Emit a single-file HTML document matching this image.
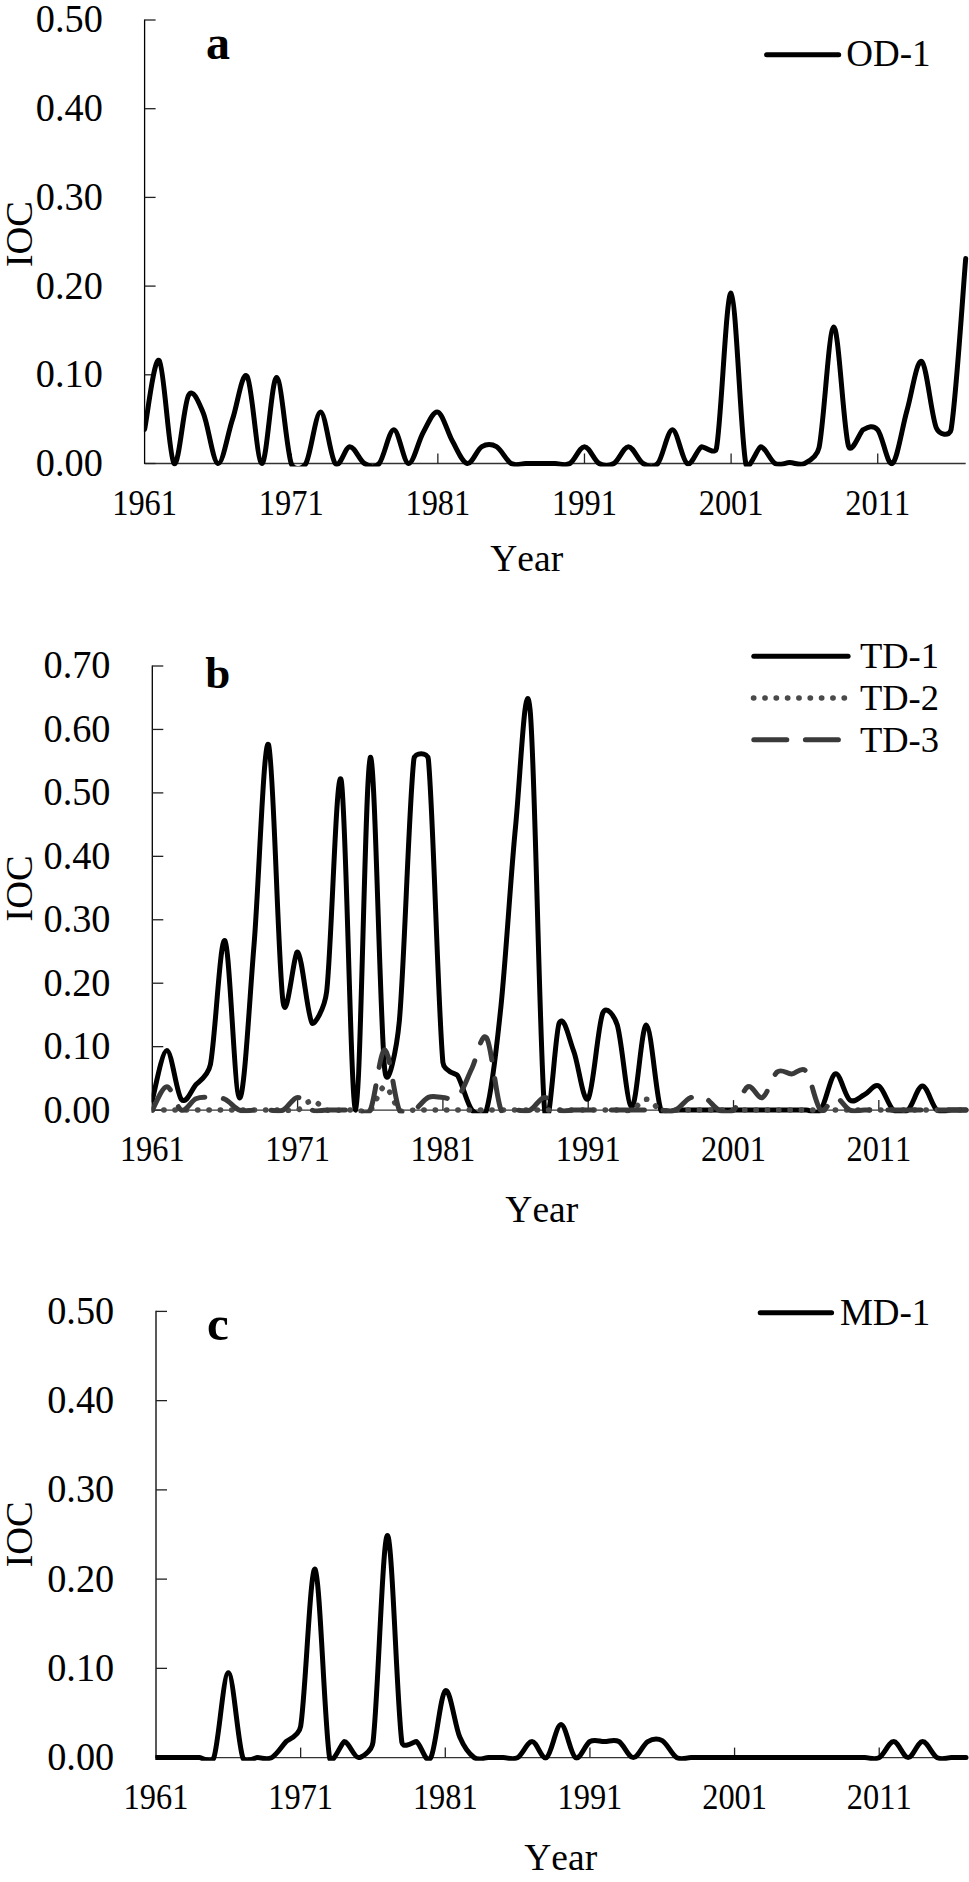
<!DOCTYPE html>
<html><head><meta charset="utf-8"><style>
html,body{margin:0;padding:0;background:#fff;overflow:hidden;}
svg{display:block;}
</style></head><body>
<svg width="969" height="1882" viewBox="0 0 969 1882">
<rect width="969" height="1882" fill="#fff"/>
<clipPath id="cpa"><rect x="143.90" y="-40.00" width="830.40" height="506.60"/></clipPath>
<path d="M144.60 463.50H965.70" fill="none" stroke="#333" stroke-width="1.3"/>
<path d="M144.60 19.40V464.10" fill="none" stroke="#000" stroke-width="1.3"/>
<path d="M144.60 463.50H155.60" stroke="#222" stroke-width="1.3"/>
<text transform="translate(102.80 475.90) scale(0.945 1)" text-anchor="end" style="font-family:'Liberation Serif',serif;font-kerning:none;font-size:40.5px">0.00</text>
<path d="M144.60 374.80H155.60" stroke="#222" stroke-width="1.3"/>
<text transform="translate(102.80 387.20) scale(0.945 1)" text-anchor="end" style="font-family:'Liberation Serif',serif;font-kerning:none;font-size:40.5px">0.10</text>
<path d="M144.60 286.10H155.60" stroke="#222" stroke-width="1.3"/>
<text transform="translate(102.80 298.50) scale(0.945 1)" text-anchor="end" style="font-family:'Liberation Serif',serif;font-kerning:none;font-size:40.5px">0.20</text>
<path d="M144.60 197.40H155.60" stroke="#222" stroke-width="1.3"/>
<text transform="translate(102.80 209.80) scale(0.945 1)" text-anchor="end" style="font-family:'Liberation Serif',serif;font-kerning:none;font-size:40.5px">0.30</text>
<path d="M144.60 108.70H155.60" stroke="#222" stroke-width="1.3"/>
<text transform="translate(102.80 121.10) scale(0.945 1)" text-anchor="end" style="font-family:'Liberation Serif',serif;font-kerning:none;font-size:40.5px">0.40</text>
<path d="M144.60 20.00H155.60" stroke="#222" stroke-width="1.3"/>
<text transform="translate(102.80 32.40) scale(0.945 1)" text-anchor="end" style="font-family:'Liberation Serif',serif;font-kerning:none;font-size:40.5px">0.50</text>
<text transform="translate(144.60 514.70) scale(0.9 1)" text-anchor="middle" style="font-family:'Liberation Serif',serif;font-kerning:none;font-size:36px">1961</text>
<path d="M291.23 463.50V453.50" stroke="#222" stroke-width="1.3"/>
<text transform="translate(291.23 514.70) scale(0.9 1)" text-anchor="middle" style="font-family:'Liberation Serif',serif;font-kerning:none;font-size:36px">1971</text>
<path d="M437.85 463.50V453.50" stroke="#222" stroke-width="1.3"/>
<text transform="translate(437.85 514.70) scale(0.9 1)" text-anchor="middle" style="font-family:'Liberation Serif',serif;font-kerning:none;font-size:36px">1981</text>
<path d="M584.48 463.50V453.50" stroke="#222" stroke-width="1.3"/>
<text transform="translate(584.48 514.70) scale(0.9 1)" text-anchor="middle" style="font-family:'Liberation Serif',serif;font-kerning:none;font-size:36px">1991</text>
<path d="M731.10 463.50V453.50" stroke="#222" stroke-width="1.3"/>
<text transform="translate(731.10 514.70) scale(0.9 1)" text-anchor="middle" style="font-family:'Liberation Serif',serif;font-kerning:none;font-size:36px">2001</text>
<path d="M877.73 463.50V453.50" stroke="#222" stroke-width="1.3"/>
<text transform="translate(877.73 514.70) scale(0.9 1)" text-anchor="middle" style="font-family:'Liberation Serif',serif;font-kerning:none;font-size:36px">2011</text>
<text x="526.7" y="571.3" text-anchor="middle" style="font-family:'Liberation Serif',serif;font-kerning:none;font-size:37.5px">Year</text>
<text transform="translate(32 234.1) rotate(-90)" text-anchor="middle" style="font-family:'Liberation Serif',serif;font-kerning:none;font-size:38.5px">IOC</text>
<text x="206.0" y="58.9" style="font-family:'Liberation Serif',serif;font-kerning:none;font-weight:bold;font-size:48px">a</text>
<g clip-path="url(#cpa)">
<path d="M144.60 429.35 C147.04 417.89 154.38 354.92 159.26 360.61 C164.15 366.30 169.04 457.73 173.92 463.50 C178.81 469.27 183.70 403.63 188.59 395.20 C193.13 387.37 198.71 402.37 203.25 412.94 C208.14 424.32 213.03 462.47 217.91 463.50 C222.80 464.53 227.69 433.64 232.57 419.15 C237.46 404.66 242.35 369.18 247.24 376.57 C252.12 383.97 257.01 463.35 261.90 463.50 C266.79 463.65 271.68 377.46 276.56 377.46 C281.45 377.46 286.34 449.16 291.23 463.50 C293.59 470.44 302.26 469.87 305.89 463.50 C310.77 454.93 315.66 412.05 320.55 412.05 C325.44 412.05 330.32 457.73 335.21 463.50 C340.10 469.27 344.99 446.65 349.88 446.65 C354.76 446.65 359.65 460.69 364.54 463.50 C369.35 466.27 374.39 469.03 379.20 463.50 C384.09 457.88 388.97 429.79 393.86 429.79 C398.75 429.79 403.64 463.06 408.52 463.50 C413.41 463.94 418.30 441.03 423.19 432.45 C428.07 423.88 432.96 410.58 437.85 412.05 C442.74 413.53 447.62 432.75 452.51 441.32 C457.40 449.90 462.29 462.61 467.17 463.50 C472.06 464.39 476.95 449.46 481.84 446.65 C486.72 443.84 491.61 443.84 496.50 446.65 C501.39 449.46 506.28 460.69 511.16 463.50 C516.05 466.31 520.94 463.50 525.82 463.50 C530.71 463.50 535.60 463.50 540.49 463.50 C545.38 463.50 550.26 463.50 555.15 463.50 C560.04 463.50 564.92 466.31 569.81 463.50 C574.70 460.69 579.59 446.65 584.48 446.65 C589.36 446.65 594.25 460.69 599.14 463.50 C604.02 466.31 608.91 466.31 613.80 463.50 C618.69 460.69 623.57 446.65 628.46 446.65 C633.35 446.65 638.24 460.69 643.12 463.50 C647.94 466.27 652.98 469.03 657.79 463.50 C662.68 457.88 667.56 429.79 672.45 429.79 C677.34 429.79 682.22 460.69 687.11 463.50 C692.00 466.31 696.89 449.16 701.77 446.65 C703.16 445.93 715.05 455.67 716.44 448.42 C721.33 422.85 726.21 290.68 731.10 293.20 C735.99 295.71 740.88 437.92 745.76 463.50 C747.86 474.47 758.33 446.65 760.42 446.65 C765.31 446.65 770.20 460.84 775.09 463.50 C779.98 466.16 784.86 462.61 789.75 462.61 C794.64 462.61 799.52 466.01 804.41 463.50 C806.69 462.33 816.80 458.13 819.08 447.53 C823.96 424.77 828.85 327.20 833.74 326.90 C838.62 326.61 843.51 428.61 848.40 445.76 C851.37 456.18 860.09 431.41 863.06 429.79 C867.87 427.17 872.91 424.26 877.73 429.79 C882.61 435.41 887.50 466.75 892.39 463.50 C897.28 460.25 902.16 427.28 907.05 410.28 C911.94 393.28 916.82 358.54 921.71 361.50 C926.60 364.45 931.49 416.64 936.38 428.02 C939.29 434.81 949.78 437.07 951.04 429.79 C955.93 401.56 963.26 287.13 965.70 258.60" fill="none" stroke="#000" stroke-width="5" stroke-linejoin="round" stroke-linecap="round" />
</g>
<path d="M766.6 54.7H838.7" stroke="#000" stroke-width="5" stroke-linecap="round" />
<text x="846.2" y="66.1" style="font-family:'Liberation Serif',serif;font-kerning:none;font-size:37px">OD-1</text>
<clipPath id="cpb"><rect x="151.60" y="606.00" width="822.70" height="507.20"/></clipPath>
<path d="M152.30 1110.10H966.00" fill="none" stroke="#333" stroke-width="1.3"/>
<path d="M152.30 665.40V1110.70" fill="none" stroke="#000" stroke-width="1.3"/>
<path d="M152.30 1110.10H163.30" stroke="#222" stroke-width="1.3"/>
<text transform="translate(110.50 1122.50) scale(0.945 1)" text-anchor="end" style="font-family:'Liberation Serif',serif;font-kerning:none;font-size:40.5px">0.00</text>
<path d="M152.30 1046.66H163.30" stroke="#222" stroke-width="1.3"/>
<text transform="translate(110.50 1059.06) scale(0.945 1)" text-anchor="end" style="font-family:'Liberation Serif',serif;font-kerning:none;font-size:40.5px">0.10</text>
<path d="M152.30 983.21H163.30" stroke="#222" stroke-width="1.3"/>
<text transform="translate(110.50 995.61) scale(0.945 1)" text-anchor="end" style="font-family:'Liberation Serif',serif;font-kerning:none;font-size:40.5px">0.20</text>
<path d="M152.30 919.77H163.30" stroke="#222" stroke-width="1.3"/>
<text transform="translate(110.50 932.17) scale(0.945 1)" text-anchor="end" style="font-family:'Liberation Serif',serif;font-kerning:none;font-size:40.5px">0.30</text>
<path d="M152.30 856.33H163.30" stroke="#222" stroke-width="1.3"/>
<text transform="translate(110.50 868.73) scale(0.945 1)" text-anchor="end" style="font-family:'Liberation Serif',serif;font-kerning:none;font-size:40.5px">0.40</text>
<path d="M152.30 792.89H163.30" stroke="#222" stroke-width="1.3"/>
<text transform="translate(110.50 805.29) scale(0.945 1)" text-anchor="end" style="font-family:'Liberation Serif',serif;font-kerning:none;font-size:40.5px">0.50</text>
<path d="M152.30 729.44H163.30" stroke="#222" stroke-width="1.3"/>
<text transform="translate(110.50 741.84) scale(0.945 1)" text-anchor="end" style="font-family:'Liberation Serif',serif;font-kerning:none;font-size:40.5px">0.60</text>
<path d="M152.30 666.00H163.30" stroke="#222" stroke-width="1.3"/>
<text transform="translate(110.50 678.40) scale(0.945 1)" text-anchor="end" style="font-family:'Liberation Serif',serif;font-kerning:none;font-size:40.5px">0.70</text>
<text transform="translate(152.30 1161.30) scale(0.9 1)" text-anchor="middle" style="font-family:'Liberation Serif',serif;font-kerning:none;font-size:36px">1961</text>
<path d="M297.60 1110.10V1100.10" stroke="#222" stroke-width="1.3"/>
<text transform="translate(297.60 1161.30) scale(0.9 1)" text-anchor="middle" style="font-family:'Liberation Serif',serif;font-kerning:none;font-size:36px">1971</text>
<path d="M442.91 1110.10V1100.10" stroke="#222" stroke-width="1.3"/>
<text transform="translate(442.91 1161.30) scale(0.9 1)" text-anchor="middle" style="font-family:'Liberation Serif',serif;font-kerning:none;font-size:36px">1981</text>
<path d="M588.21 1110.10V1100.10" stroke="#222" stroke-width="1.3"/>
<text transform="translate(588.21 1161.30) scale(0.9 1)" text-anchor="middle" style="font-family:'Liberation Serif',serif;font-kerning:none;font-size:36px">1991</text>
<path d="M733.51 1110.10V1100.10" stroke="#222" stroke-width="1.3"/>
<text transform="translate(733.51 1161.30) scale(0.9 1)" text-anchor="middle" style="font-family:'Liberation Serif',serif;font-kerning:none;font-size:36px">2001</text>
<path d="M878.82 1110.10V1100.10" stroke="#222" stroke-width="1.3"/>
<text transform="translate(878.82 1161.30) scale(0.9 1)" text-anchor="middle" style="font-family:'Liberation Serif',serif;font-kerning:none;font-size:36px">2011</text>
<text x="541.8" y="1222.2" text-anchor="middle" style="font-family:'Liberation Serif',serif;font-kerning:none;font-size:37.5px">Year</text>
<text transform="translate(32 888.5) rotate(-90)" text-anchor="middle" style="font-family:'Liberation Serif',serif;font-kerning:none;font-size:38.5px">IOC</text>
<text x="205.3" y="688.0" style="font-family:'Liberation Serif',serif;font-kerning:none;font-weight:bold;font-size:45px">b</text>
<g clip-path="url(#cpb)">
<path d="M152.30 1099.95 C154.72 1091.70 161.99 1050.57 166.83 1050.46 C171.67 1050.36 176.52 1093.60 181.36 1099.31 C186.20 1105.02 191.05 1090.54 195.89 1084.72 C198.36 1081.76 207.95 1076.66 210.42 1064.42 C215.26 1040.42 220.11 935.10 224.95 940.71 C229.80 946.31 234.64 1097.31 239.48 1098.05 C244.33 1098.79 249.17 1004.04 254.01 945.15 C258.86 886.25 263.70 735.15 268.54 744.67 C273.39 754.19 278.23 967.67 283.07 1002.25 C286.69 1028.09 293.98 949.52 297.60 952.13 C302.45 955.62 307.29 1016.63 312.13 1023.18 C314.21 1025.99 324.59 1008.78 326.66 991.46 C331.51 950.96 336.35 760.42 341.19 780.20 C346.04 799.97 350.88 1113.91 355.73 1110.10 C360.57 1106.29 365.41 764.02 370.26 757.36 C375.10 750.70 379.94 1026.14 384.79 1070.13 C387.57 1095.46 396.94 1046.65 399.32 1021.28 C404.16 969.47 409.00 802.93 413.85 759.26 C414.65 752.04 427.68 752.03 428.38 759.26 C433.22 809.80 438.06 1009.86 442.91 1062.52 C443.79 1072.12 456.55 1073.76 457.44 1075.21 C462.28 1083.14 467.12 1104.28 471.97 1110.10 C476.62 1115.68 484.55 1117.10 486.50 1110.10 C491.34 1092.65 496.19 1052.68 501.03 1005.42 C505.87 958.15 510.72 875.78 515.56 826.51 C520.40 777.24 525.25 662.51 530.09 709.78 C534.93 757.04 539.78 1057.87 544.62 1110.10 C548.69 1153.97 555.08 1031.44 559.15 1023.18 C563.99 1013.35 568.84 1038.52 573.68 1051.10 C578.52 1063.68 583.37 1105.02 588.21 1098.68 C593.05 1092.34 597.90 1025.30 602.74 1013.03 C606.21 1004.25 614.48 1016.07 617.27 1025.09 C622.11 1040.74 626.96 1106.93 631.80 1106.93 C636.65 1106.93 641.49 1024.56 646.33 1025.09 C651.18 1025.62 656.02 1095.93 660.86 1110.10 C663.21 1116.97 673.04 1110.10 675.39 1110.10 C680.24 1110.10 685.08 1110.10 689.92 1110.10 C694.77 1110.10 699.61 1110.10 704.45 1110.10 C709.30 1110.10 714.14 1110.10 718.98 1110.10 C723.83 1110.10 728.67 1110.10 733.51 1110.10 C738.36 1110.10 743.20 1110.10 748.04 1110.10 C752.89 1110.10 757.73 1110.10 762.58 1110.10 C767.42 1110.10 772.26 1110.10 777.11 1110.10 C781.95 1110.10 786.79 1110.10 791.64 1110.10 C796.48 1110.10 801.32 1110.10 806.17 1110.10 C810.72 1110.10 816.15 1115.76 820.70 1110.10 C825.54 1104.07 830.38 1075.63 835.23 1073.94 C840.07 1072.25 844.91 1096.46 849.76 1099.95 C854.60 1103.44 859.44 1097.20 864.29 1094.87 C869.13 1092.55 873.97 1083.45 878.82 1085.99 C883.66 1088.53 888.50 1106.08 893.35 1110.10 C898.19 1114.12 903.04 1114.12 907.88 1110.10 C912.72 1106.08 917.57 1085.99 922.41 1085.99 C927.25 1085.99 932.10 1106.08 936.94 1110.10 C941.78 1114.12 946.63 1110.10 951.47 1110.10 C956.31 1110.10 963.58 1110.10 966.00 1110.10" fill="none" stroke="#000" stroke-width="5" stroke-linejoin="round" stroke-linecap="round" />
<path d="M152.30 1110.10 C154.72 1110.10 161.99 1110.10 166.83 1110.10 C171.67 1110.10 176.52 1110.10 181.36 1110.10 C186.20 1110.10 191.05 1110.10 195.89 1110.10 C200.73 1110.10 205.58 1110.10 210.42 1110.10 C215.26 1110.10 220.11 1110.10 224.95 1110.10 C229.80 1110.10 234.64 1110.10 239.48 1110.10 C244.33 1110.10 249.17 1110.10 254.01 1110.10 C258.86 1110.10 263.70 1110.10 268.54 1110.10 C273.39 1110.10 278.23 1110.10 283.07 1110.10 C287.92 1110.10 292.76 1111.69 297.60 1110.10 C302.45 1108.51 307.29 1100.58 312.13 1100.58 C316.98 1100.58 321.82 1108.51 326.66 1110.10 C331.51 1111.69 336.35 1110.10 341.19 1110.10 C346.04 1110.10 350.88 1110.10 355.73 1110.10 C360.57 1110.10 365.41 1114.01 370.26 1110.10 C375.10 1106.19 379.94 1086.63 384.79 1086.63 C389.63 1086.63 394.47 1106.19 399.32 1110.10 C404.16 1114.01 409.00 1110.10 413.85 1110.10 C418.69 1110.10 423.53 1110.10 428.38 1110.10 C433.22 1110.10 438.06 1110.10 442.91 1110.10 C447.75 1110.10 452.59 1110.10 457.44 1110.10 C462.28 1110.10 467.12 1110.10 471.97 1110.10 C476.81 1110.10 481.65 1110.10 486.50 1110.10 C491.34 1110.10 496.19 1110.10 501.03 1110.10 C505.87 1110.10 510.72 1110.10 515.56 1110.10 C520.40 1110.10 525.25 1110.10 530.09 1110.10 C534.93 1110.10 539.78 1110.10 544.62 1110.10 C549.46 1110.10 554.31 1110.10 559.15 1110.10 C563.99 1110.10 568.84 1110.10 573.68 1110.10 C578.52 1110.10 583.37 1110.10 588.21 1110.10 C593.05 1110.10 597.90 1110.10 602.74 1110.10 C607.58 1110.10 612.43 1110.10 617.27 1110.10 C622.11 1110.10 626.96 1111.90 631.80 1110.10 C636.65 1108.30 641.49 1099.31 646.33 1099.31 C651.18 1099.31 656.02 1108.30 660.86 1110.10 C665.71 1111.90 670.55 1110.10 675.39 1110.10 C680.24 1110.10 685.08 1110.10 689.92 1110.10 C694.77 1110.10 699.61 1110.10 704.45 1110.10 C709.30 1110.10 714.14 1110.10 718.98 1110.10 C723.83 1110.10 728.67 1110.10 733.51 1110.10 C738.36 1110.10 743.20 1110.10 748.04 1110.10 C752.89 1110.10 757.73 1110.10 762.58 1110.10 C767.42 1110.10 772.26 1110.10 777.11 1110.10 C781.95 1110.10 786.79 1110.10 791.64 1110.10 C796.48 1110.10 801.32 1110.10 806.17 1110.10 C811.01 1110.10 815.85 1110.10 820.70 1110.10 C825.54 1110.10 830.38 1110.10 835.23 1110.10 C840.07 1110.10 844.91 1110.10 849.76 1110.10 C854.60 1110.10 859.44 1110.10 864.29 1110.10 C869.13 1110.10 873.97 1110.10 878.82 1110.10 C883.66 1110.10 888.50 1110.10 893.35 1110.10 C898.19 1110.10 903.04 1110.10 907.88 1110.10 C912.72 1110.10 917.57 1110.10 922.41 1110.10 C927.25 1110.10 932.10 1110.10 936.94 1110.10 C941.78 1110.10 946.63 1110.10 951.47 1110.10 C956.31 1110.10 963.58 1110.10 966.00 1110.10" fill="none" stroke="#4a4a4a" stroke-width="5.5" stroke-linejoin="round" stroke-linecap="round" stroke-dasharray="0.3 11.03"/>
<path d="M152.30 1110.10 C154.72 1106.19 161.99 1086.63 166.83 1086.63 C171.67 1086.63 176.52 1108.09 181.36 1110.10 C186.20 1112.11 191.05 1100.80 195.89 1098.68 C200.73 1096.57 205.58 1097.31 210.42 1097.41 C215.26 1097.52 220.11 1097.20 224.95 1099.31 C229.80 1101.43 234.64 1108.30 239.48 1110.10 C244.33 1111.90 249.17 1110.10 254.01 1110.10 C258.86 1110.10 263.70 1110.10 268.54 1110.10 C273.39 1110.10 278.23 1112.21 283.07 1110.10 C287.92 1107.99 292.76 1097.41 297.60 1097.41 C302.45 1097.41 307.29 1107.99 312.13 1110.10 C316.98 1112.21 321.82 1110.10 326.66 1110.10 C331.51 1110.10 336.35 1110.10 341.19 1110.10 C346.04 1110.10 350.88 1110.10 355.73 1110.10 C358.88 1110.10 367.10 1116.64 370.26 1110.10 C375.10 1100.05 379.94 1049.83 384.79 1049.83 C389.63 1049.83 394.47 1100.05 399.32 1110.10 C402.47 1116.64 410.69 1111.48 413.85 1110.10 C418.69 1107.99 423.53 1099.53 428.38 1097.41 C433.22 1095.30 438.06 1097.41 442.91 1097.41 C447.75 1097.41 452.59 1102.28 457.44 1097.41 C462.28 1092.55 467.12 1078.17 471.97 1068.23 C476.81 1058.29 481.65 1030.80 486.50 1037.78 C491.34 1044.75 496.19 1098.05 501.03 1110.10 C503.74 1116.84 512.85 1110.10 515.56 1110.10 C520.40 1110.10 525.25 1112.21 530.09 1110.10 C534.93 1107.99 539.78 1097.41 544.62 1097.41 C549.46 1097.41 554.31 1107.99 559.15 1110.10 C563.99 1112.21 568.84 1110.10 573.68 1110.10 C578.52 1110.10 583.37 1110.10 588.21 1110.10 C593.05 1110.10 597.90 1110.10 602.74 1110.10 C607.58 1110.10 612.43 1110.10 617.27 1110.10 C622.11 1110.10 626.96 1110.10 631.80 1110.10 C636.65 1110.10 641.49 1110.10 646.33 1110.10 C651.18 1110.10 656.02 1110.10 660.86 1110.10 C665.71 1110.10 670.55 1112.11 675.39 1110.10 C680.24 1108.09 685.08 1100.16 689.92 1098.05 C694.77 1095.93 699.61 1095.40 704.45 1097.41 C709.30 1099.42 714.14 1107.99 718.98 1110.10 C723.83 1112.21 728.67 1114.01 733.51 1110.10 C738.36 1106.19 743.20 1088.74 748.04 1086.63 C752.89 1084.51 757.73 1099.84 762.58 1097.41 C767.42 1094.98 772.26 1075.95 777.11 1072.03 C781.95 1068.12 786.79 1074.04 791.64 1073.94 C796.26 1073.84 801.55 1065.65 806.17 1071.40 C811.01 1077.43 815.85 1105.76 820.70 1110.10 C825.54 1114.44 830.38 1097.41 835.23 1097.41 C840.07 1097.41 844.91 1107.99 849.76 1110.10 C854.60 1112.21 859.44 1110.10 864.29 1110.10 C869.13 1110.10 873.97 1110.10 878.82 1110.10 C883.66 1110.10 888.50 1110.10 893.35 1110.10 C898.19 1110.10 903.04 1110.10 907.88 1110.10 C912.72 1110.10 917.57 1110.10 922.41 1110.10 C927.25 1110.10 932.10 1110.10 936.94 1110.10 C941.78 1110.10 946.63 1110.10 951.47 1110.10 C956.31 1110.10 963.58 1110.10 966.00 1110.10" fill="none" stroke="#3a3a3a" stroke-width="5" stroke-linejoin="round" stroke-linecap="round" stroke-dasharray="33 18.6"/>
</g>
<path d="M753.8 656.3H848.1" stroke="#000" stroke-width="5" stroke-linecap="round" />
<text x="859.9" y="667.7" style="font-family:'Liberation Serif',serif;font-kerning:none;font-size:36.5px">TD-1</text>
<path d="M753.5 698.1H848.1" stroke="#4a4a4a" stroke-width="5.5" stroke-linecap="round" stroke-dasharray="0.3 11.03"/>
<text x="859.9" y="709.8" style="font-family:'Liberation Serif',serif;font-kerning:none;font-size:36.5px">TD-2</text>
<path d="M753.8 739.8H848.1" stroke="#3a3a3a" stroke-width="5" stroke-linecap="round" stroke-dasharray="33 18.6"/>
<text x="859.9" y="751.9" style="font-family:'Liberation Serif',serif;font-kerning:none;font-size:36.5px">TD-3</text>
<clipPath id="cpc"><rect x="155.30" y="1251.40" width="819.00" height="509.30"/></clipPath>
<path d="M156.00 1757.60H966.00" fill="none" stroke="#333" stroke-width="1.3"/>
<path d="M156.00 1310.80V1758.20" fill="none" stroke="#000" stroke-width="1.3"/>
<path d="M156.00 1757.60H167.00" stroke="#222" stroke-width="1.3"/>
<text transform="translate(114.20 1770.00) scale(0.945 1)" text-anchor="end" style="font-family:'Liberation Serif',serif;font-kerning:none;font-size:40.5px">0.00</text>
<path d="M156.00 1668.36H167.00" stroke="#222" stroke-width="1.3"/>
<text transform="translate(114.20 1680.76) scale(0.945 1)" text-anchor="end" style="font-family:'Liberation Serif',serif;font-kerning:none;font-size:40.5px">0.10</text>
<path d="M156.00 1579.12H167.00" stroke="#222" stroke-width="1.3"/>
<text transform="translate(114.20 1591.52) scale(0.945 1)" text-anchor="end" style="font-family:'Liberation Serif',serif;font-kerning:none;font-size:40.5px">0.20</text>
<path d="M156.00 1489.88H167.00" stroke="#222" stroke-width="1.3"/>
<text transform="translate(114.20 1502.28) scale(0.945 1)" text-anchor="end" style="font-family:'Liberation Serif',serif;font-kerning:none;font-size:40.5px">0.30</text>
<path d="M156.00 1400.64H167.00" stroke="#222" stroke-width="1.3"/>
<text transform="translate(114.20 1413.04) scale(0.945 1)" text-anchor="end" style="font-family:'Liberation Serif',serif;font-kerning:none;font-size:40.5px">0.40</text>
<path d="M156.00 1311.40H167.00" stroke="#222" stroke-width="1.3"/>
<text transform="translate(114.20 1323.80) scale(0.945 1)" text-anchor="end" style="font-family:'Liberation Serif',serif;font-kerning:none;font-size:40.5px">0.50</text>
<text transform="translate(156.00 1808.80) scale(0.9 1)" text-anchor="middle" style="font-family:'Liberation Serif',serif;font-kerning:none;font-size:36px">1961</text>
<path d="M300.64 1757.60V1747.60" stroke="#222" stroke-width="1.3"/>
<text transform="translate(300.64 1808.80) scale(0.9 1)" text-anchor="middle" style="font-family:'Liberation Serif',serif;font-kerning:none;font-size:36px">1971</text>
<path d="M445.29 1757.60V1747.60" stroke="#222" stroke-width="1.3"/>
<text transform="translate(445.29 1808.80) scale(0.9 1)" text-anchor="middle" style="font-family:'Liberation Serif',serif;font-kerning:none;font-size:36px">1981</text>
<path d="M589.93 1757.60V1747.60" stroke="#222" stroke-width="1.3"/>
<text transform="translate(589.93 1808.80) scale(0.9 1)" text-anchor="middle" style="font-family:'Liberation Serif',serif;font-kerning:none;font-size:36px">1991</text>
<path d="M734.57 1757.60V1747.60" stroke="#222" stroke-width="1.3"/>
<text transform="translate(734.57 1808.80) scale(0.9 1)" text-anchor="middle" style="font-family:'Liberation Serif',serif;font-kerning:none;font-size:36px">2001</text>
<path d="M879.21 1757.60V1747.60" stroke="#222" stroke-width="1.3"/>
<text transform="translate(879.21 1808.80) scale(0.9 1)" text-anchor="middle" style="font-family:'Liberation Serif',serif;font-kerning:none;font-size:36px">2011</text>
<text x="560.7" y="1870.3" text-anchor="middle" style="font-family:'Liberation Serif',serif;font-kerning:none;font-size:37.5px">Year</text>
<text transform="translate(32 1534.4) rotate(-90)" text-anchor="middle" style="font-family:'Liberation Serif',serif;font-kerning:none;font-size:38.5px">IOC</text>
<text x="207.0" y="1340.0" style="font-family:'Liberation Serif',serif;font-kerning:none;font-weight:bold;font-size:49px">c</text>
<g clip-path="url(#cpc)">
<path d="M156.00 1757.60 C158.41 1757.60 165.64 1757.60 170.46 1757.60 C175.29 1757.60 180.11 1757.60 184.93 1757.60 C189.75 1757.60 194.57 1757.60 199.39 1757.60 C201.73 1757.60 211.52 1764.44 213.86 1757.60 C218.68 1743.47 223.50 1672.82 228.32 1672.82 C233.14 1672.82 237.96 1743.47 242.79 1757.60 C245.12 1764.44 254.91 1757.60 257.25 1757.60 C262.07 1757.60 266.89 1760.28 271.71 1757.60 C276.54 1754.92 281.36 1746.74 286.18 1741.54 C287.91 1739.66 298.91 1736.70 300.64 1726.37 C305.46 1697.66 310.29 1564.10 315.11 1569.30 C319.93 1574.51 324.75 1728.89 329.57 1757.60 C331.36 1768.26 342.25 1741.54 344.04 1741.54 C348.86 1741.54 353.68 1757.45 358.50 1757.60 C359.85 1757.64 371.61 1752.82 372.96 1742.43 C377.79 1705.39 382.61 1535.39 387.43 1535.39 C392.25 1535.39 397.07 1708.07 401.89 1742.43 C402.90 1749.60 415.35 1741.01 416.36 1741.54 C421.18 1744.07 426.00 1766.08 430.82 1757.60 C435.64 1749.12 440.46 1694.09 445.29 1690.67 C450.11 1687.25 454.93 1725.92 459.75 1737.07 C464.57 1748.23 469.39 1754.18 474.21 1757.60 C479.04 1761.02 483.86 1757.60 488.68 1757.60 C493.50 1757.60 498.32 1757.60 503.14 1757.60 C507.96 1757.60 512.79 1760.28 517.61 1757.60 C522.43 1754.92 527.25 1741.54 532.07 1741.54 C536.89 1741.54 541.71 1760.43 546.54 1757.60 C551.36 1754.77 556.18 1724.58 561.00 1724.58 C565.82 1724.58 570.64 1754.77 575.46 1757.60 C580.29 1760.43 585.11 1744.21 589.93 1741.54 C594.75 1738.86 599.57 1741.54 604.39 1741.54 C609.21 1741.54 614.04 1738.86 618.86 1741.54 C623.68 1744.21 628.50 1757.60 633.32 1757.60 C638.14 1757.60 642.96 1744.36 647.79 1741.54 C652.61 1738.71 657.43 1737.97 662.25 1740.64 C667.07 1743.32 671.89 1754.77 676.71 1757.60 C681.54 1760.43 686.36 1757.60 691.18 1757.60 C696.00 1757.60 700.82 1757.60 705.64 1757.60 C710.46 1757.60 715.29 1757.60 720.11 1757.60 C724.93 1757.60 729.75 1757.60 734.57 1757.60 C739.39 1757.60 744.21 1757.60 749.04 1757.60 C753.86 1757.60 758.68 1757.60 763.50 1757.60 C768.32 1757.60 773.14 1757.60 777.96 1757.60 C782.79 1757.60 787.61 1757.60 792.43 1757.60 C797.25 1757.60 802.07 1757.60 806.89 1757.60 C811.71 1757.60 816.54 1757.60 821.36 1757.60 C826.18 1757.60 831.00 1757.60 835.82 1757.60 C840.64 1757.60 845.46 1757.60 850.29 1757.60 C855.11 1757.60 859.93 1757.60 864.75 1757.60 C869.57 1757.60 874.39 1760.28 879.21 1757.60 C884.04 1754.92 888.86 1741.54 893.68 1741.54 C898.50 1741.54 903.32 1757.60 908.14 1757.60 C912.96 1757.60 917.79 1741.54 922.61 1741.54 C927.43 1741.54 932.25 1754.92 937.07 1757.60 C941.89 1760.28 946.71 1757.60 951.54 1757.60 C956.36 1757.60 963.59 1757.60 966.00 1757.60" fill="none" stroke="#000" stroke-width="5" stroke-linejoin="round" stroke-linecap="round" />
</g>
<path d="M760.2 1312.7H831.6" stroke="#000" stroke-width="5" stroke-linecap="round" />
<text x="839.9" y="1324.7" style="font-family:'Liberation Serif',serif;font-kerning:none;font-size:37px">MD-1</text>
</svg>
</body></html>
